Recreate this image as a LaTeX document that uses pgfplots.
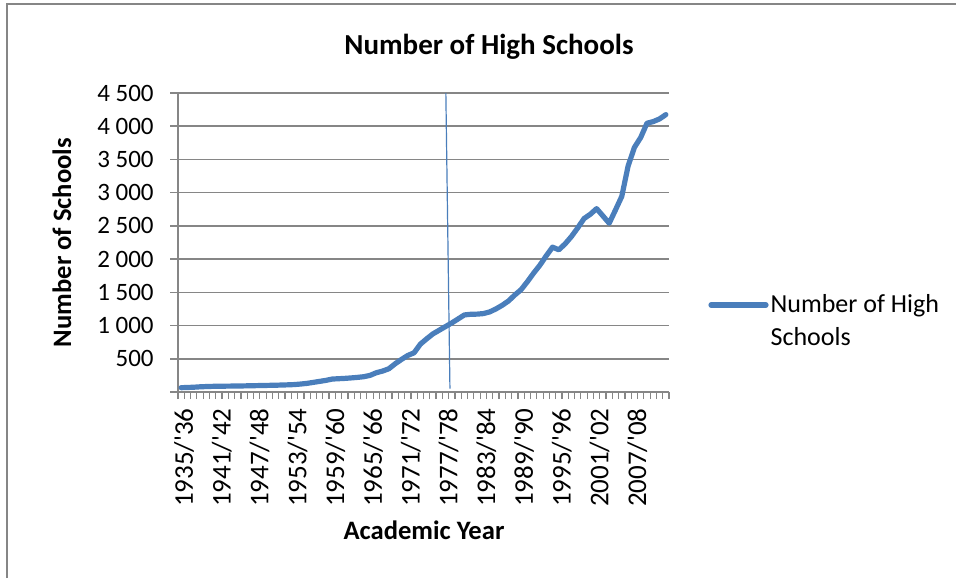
\documentclass[border=0pt]{standalone}
\usepackage{fontspec}
\setmainfont{Carlito}
\usepackage{pgfplots}
\pgfplotsset{compat=1.18}

\definecolor{serieblue}{HTML}{4A7EBB}
\definecolor{axisgray}{HTML}{868686}
\newcommand{\yr}[2]{#1/\textquotesingle#2}

\begin{document}
\begin{tikzpicture}
\begin{axis}[
  at={(0pt,0pt)}, anchor=south west,
  scale only axis,
  width=245.5pt, height=149.5pt,
  xmin=-0.5, xmax=77.5,
  ymin=0, ymax=4500,
  axis lines=left,
  axis line style={-, draw=axisgray, line width=0.75pt},
  ytick={0,500,...,4500},
  yticklabels={{},500,1 000,1 500,2 000,2 500,3 000,3 500,4 000,4 500},
  ymajorgrids,
  major grid style={draw=axisgray, line width=0.75pt},
  tick align=outside,
  major tick length=4pt,
  ytick style={draw=axisgray, line width=0.75pt},
  yticklabel style={font=\fontsize{12.5}{14}\selectfont, anchor=east, inner sep=0pt, xshift=-8pt},
  xtick={0,6,...,72},
  xticklabels={\yr{1935}{36},\yr{1941}{42},\yr{1947}{48},\yr{1953}{54},\yr{1959}{60},\yr{1965}{66},\yr{1971}{72},\yr{1977}{78},\yr{1983}{84},\yr{1989}{90},\yr{1995}{96},\yr{2001}{02},\yr{2007}{08}},
  xtick style={draw=none},
  xticklabel style={font=\fontsize{13.5}{15}\selectfont, rotate=90, anchor=east, inner sep=0pt, xshift=-4pt, yshift=-1.5pt},
  extra x ticks={-0.5,0.5,...,77.5},
  extra x tick labels={},
  extra x tick style={grid=none, xtick style={draw=axisgray, line width=0.6pt}, major tick length=3.5pt},
  /pgf/number format/assume math mode=true,
  legend style={at={(axis cs:77.5,1060)}, anchor=west, xshift=19.5pt, draw=none, fill=none,
    font=\fontsize{13}{16.5}\selectfont, inner sep=0pt,
    nodes={inner sep=1pt}, cells={align=left}},
  legend image code/.code={\draw[#1, line width=2.6pt] (0pt,8.25pt) -- (27.5pt,8.25pt);},
  clip=false,
]
\addplot[serieblue, line width=2.6pt, line join=round, line cap=round] coordinates {
(0,65) (1,68) (2,72) (3,78) (4,82) (5,85) (6,87) (7,88) (8,89) (9,90)
(10,92) (11,94) (12,96) (13,98) (14,100) (15,102) (16,105) (17,108) (18,112) (19,120)
(20,130) (21,145) (22,160) (23,175) (24,195) (25,200) (26,205) (27,212) (28,220) (29,230)
(30,250) (31,290) (32,315) (33,350) (34,425) (35,490) (36,550) (37,590) (38,720) (39,800)
(40,875) (41,930) (42,985) (43,1040) (44,1100) (45,1160) (46,1170) (47,1172) (48,1180) (49,1205)
(50,1250) (51,1305) (52,1370) (53,1460) (54,1540) (55,1660) (56,1790) (57,1910) (58,2050) (59,2180)
(60,2140) (61,2230) (62,2340) (63,2470) (64,2610) (65,2675) (66,2760) (67,2650) (68,2540) (69,2740)
(70,2945) (71,3400) (72,3680) (73,3830) (74,4045) (75,4070) (76,4110) (77,4175)
};
\addlegendentry{Number of High\\Schools}
% hand-drawn marker line at 1977/'78
\addplot[serieblue, line width=0.6pt, forget plot] coordinates {(42.05,4500) (42.7,50)};
\end{axis}
% chart title and axis titles
\node[font=\bfseries\fontsize{14.5}{17}\selectfont] at (155.5pt,172.5pt) {Number of High Schools};
\node[font=\bfseries\fontsize{13.3}{16}\selectfont, rotate=90] at (-58pt,74.75pt) {Number of Schools};
\node[font=\bfseries\fontsize{13.3}{16}\selectfont] at (123pt,-69pt) {Academic Year};
% chart area border (only left and top edges visible)
\draw[axisgray, line width=1pt] (-85.25pt,-93pt) -- (-85.25pt,194pt) -- (389pt,194pt);
\pgfresetboundingbox
\useasboundingbox (-89pt,-93pt) rectangle (389pt,196pt);
\end{tikzpicture}
\end{document}
